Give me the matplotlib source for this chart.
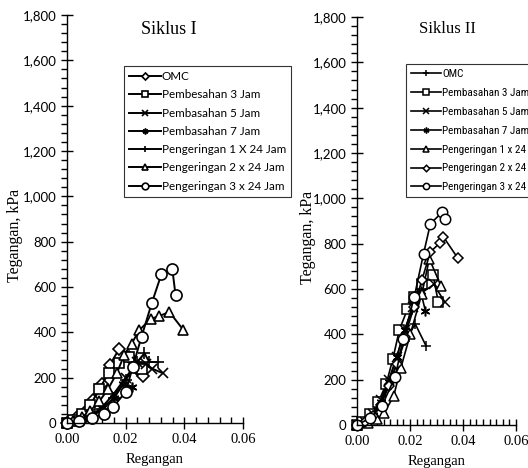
import matplotlib
matplotlib.use("Agg")
import matplotlib.pyplot as plt
from matplotlib.ticker import MultipleLocator, FuncFormatter

# ---- Siklus I data (regangan, tegangan kPa) ----
s1_labels = ["OMC", "Pembesahan 3 Jam", "Pembasahan 5 Jam", "Pembasahan 7 Jam",
             "Pengeringan 1 X 24 Jam", "Pengeringan 2 x 24 Jam", "Pengeringan 3 x 24 Jam"]
s1_omc_x = [0, 0.003, 0.006, 0.009, 0.012, 0.0146, 0.0177, 0.021, 0.024, 0.026]
s1_omc_y = [0, 20, 50, 100, 170, 256, 325, 290, 240, 207]
s1_p3_x = [0, 0.002, 0.005, 0.008, 0.011, 0.0142, 0.0176, 0.021, 0.0257]
s1_p3_y = [0, 15, 40, 80, 150, 220, 265, 290, 238]
s1_p5_x = [0, 0.004, 0.008, 0.012, 0.016, 0.020, 0.024, 0.027, 0.029, 0.0326]
s1_p5_y = [0, 10, 30, 70, 130, 200, 270, 260, 240, 220]
s1_p7_x = [0, 0.004, 0.008, 0.012, 0.016, 0.019, 0.022]
s1_p7_y = [0, 10, 30, 65, 110, 170, 160]
s1_k1_x = [0, 0.004, 0.008, 0.012, 0.016, 0.020, 0.024, 0.0264, 0.028, 0.0311]
s1_k1_y = [0, 10, 25, 60, 110, 190, 270, 308, 270, 268]
s1_k2_x = [0, 0.002, 0.005, 0.008, 0.011, 0.014, 0.017, 0.0195, 0.022, 0.0247,
           0.0285, 0.0315, 0.0349, 0.0397]
s1_k2_y = [0, 8, 25, 55, 95, 150, 220, 300, 350, 410, 459, 472, 490, 410]
s1_k3_x = [0, 0.0041, 0.0084, 0.0125, 0.0157, 0.020, 0.0224, 0.0254, 0.0289,
           0.0322, 0.0359, 0.037]
s1_k3_y = [0, 9, 22, 40, 70, 137, 247, 380, 529, 657, 679, 565]

# ---- Siklus II data ----
s2_labels = ["OMC", "Pembasahan 3 Jam", "Pembasahan 5 Jam", "Pembasahan 7 Jam",
             "Pengeringan 1 x 24 Jam", "Pengeringan 2 x 24 Jam", "Pengeringan 3 x 24 Jam"]
s2_omc_x = [0, 0.003, 0.006, 0.009, 0.012, 0.015, 0.018, 0.022, 0.0261]
s2_omc_y = [0, 15, 45, 100, 180, 270, 370, 445, 348]
s2_p3_x = [0, 0.002, 0.005, 0.008, 0.011, 0.0135, 0.016, 0.019, 0.0215, 0.0245,
           0.0287, 0.0307]
s2_p3_y = [0, 15, 50, 100, 180, 290, 420, 510, 565, 620, 662, 541]
s2_p5_x = [0, 0.003, 0.006, 0.009, 0.012, 0.015, 0.018, 0.021, 0.024, 0.029, 0.0332]
s2_p5_y = [0, 15, 50, 110, 200, 300, 420, 520, 580, 620, 541]
s2_p7_x = [0, 0.003, 0.006, 0.009, 0.012, 0.015, 0.018, 0.0215, 0.024, 0.0258]
s2_p7_y = [0, 15, 45, 100, 190, 300, 420, 530, 590, 504]
s2_k1_x = [0, 0.004, 0.0075, 0.0102, 0.0138, 0.0165, 0.0201, 0.0245, 0.0273, 0.0317]
s2_k1_y = [0, 10, 25, 53, 126, 250, 400, 580, 733, 613]
s2_k2_x = [0, 0.003, 0.006, 0.009, 0.012, 0.015, 0.018, 0.0215, 0.0245, 0.0277,
           0.0314, 0.0326, 0.038]
s2_k2_y = [0, 15, 40, 90, 170, 270, 390, 520, 640, 764, 804, 830, 737]
s2_k3_x = [0, 0.005, 0.0094, 0.0144, 0.0175, 0.0216, 0.0251, 0.0277, 0.0321, 0.0333]
s2_k3_y = [0, 31, 84, 213, 378, 565, 755, 888, 938, 908]

s1_series = [(s1_omc_x, s1_omc_y), (s1_p3_x, s1_p3_y), (s1_p5_x, s1_p5_y),
             (s1_p7_x, s1_p7_y), (s1_k1_x, s1_k1_y), (s1_k2_x, s1_k2_y),
             (s1_k3_x, s1_k3_y)]
s2_series = [(s2_omc_x, s2_omc_y), (s2_p3_x, s2_p3_y), (s2_p5_x, s2_p5_y),
             (s2_p7_x, s2_p7_y), (s2_k1_x, s2_k1_y), (s2_k2_x, s2_k2_y),
             (s2_k3_x, s2_k3_y)]

s1_markers = ["D", "s", "x", (6, 2, 0), "+", "^", "o"]
s1_msize = [6, 7.5, 6.5, 7, 8, 7.5, 8]
s2_markers = ["+", "s", "x", (6, 2, 0), "^", "D", "o"]
s2_msize = [7, 7, 6.5, 7, 7, 5.5, 7.5]

serif = "Liberation Serif"
sans = "Lato"
narrow = ["Liberation Sans Narrow", "Roboto Condensed", "Lato"]

fig = plt.figure(figsize=(5.28, 4.68), dpi=100)
W, H = 528, 468


def px_axes(x0, y0, x1, y1):
    return fig.add_axes([x0 / W, 1 - y1 / H, (x1 - x0) / W, (y1 - y0) / H])


def style_axes(ax, xminor):
    ax.set_xlim(0, 0.06)
    ax.set_ylim(0, 1800)
    for s in ["top", "right"]:
        ax.spines[s].set_visible(False)
    for s in ["left", "bottom"]:
        ax.spines[s].set_linewidth(1.0)
    ax.xaxis.set_major_locator(MultipleLocator(0.02))
    ax.xaxis.set_minor_locator(MultipleLocator(xminor))
    ax.yaxis.set_major_locator(MultipleLocator(200))
    ax.yaxis.set_minor_locator(MultipleLocator(40))
    ax.yaxis.set_major_formatter(FuncFormatter(lambda v, p: f"{int(v):,}"))
    ax.xaxis.set_major_formatter(FuncFormatter(lambda v, p: f"{v:.2f}"))
    ax.tick_params(axis="both", which="major", direction="inout", length=8, width=1)
    ax.tick_params(axis="y", which="minor", direction="out", length=4, width=1)
    ax.tick_params(axis="x", which="minor", direction="in", length=4, width=1)
    for t in ax.get_yticklabels():
        t.set_fontfamily(sans)
        t.set_fontsize(9.5)
    for t in ax.get_xticklabels():
        t.set_fontfamily(serif)
        t.set_fontsize(10.5)
    ax.set_xlabel("Regangan", fontfamily=serif, fontsize=10.5, labelpad=5)
    ax.set_ylabel("Tegangan, kPa", fontfamily=serif, fontsize=11.5)


ax1 = px_axes(67, 15, 243, 423)
ax2 = px_axes(357, 17, 516, 425)
style_axes(ax1, 0.004)
style_axes(ax2, 0.0025)

for (x, y), m, ms, lab in zip(s1_series, s1_markers, s1_msize, s1_labels):
    ax1.plot(x, y, color="black", lw=1.4, marker=m, ms=ms, mfc="white",
             mec="black", mew=1.2, label=lab, clip_on=False)
for (x, y), m, ms, lab in zip(s2_series, s2_markers, s2_msize, s2_labels):
    ax2.plot(x, y, color="black", lw=1.2, marker=m, ms=ms, mfc="white",
             mec="black", mew=1.1, label=lab, clip_on=False)

ax1.text(0.58, 0.965, "Siklus I", transform=ax1.transAxes, ha="center",
         va="center", fontfamily=serif, fontsize=13)
ax2.text(0.57, 0.97, "Siklus II", transform=ax2.transAxes, ha="center",
         va="center", fontfamily=serif, fontsize=12)

ax1.yaxis.set_label_coords(-0.25, 0.46)
ax2.yaxis.set_label_coords(-0.26, 0.46)

leg_kw = dict(loc="upper left", frameon=True, fancybox=False, edgecolor="black",
              borderpad=0.45, handlelength=2.7, handletextpad=0.1,
              borderaxespad=0, markerscale=0.6)
l1 = fig.legend(*ax1.get_legend_handles_labels(),
                bbox_to_anchor=(124 / W, 1 - 66 / H), labelspacing=0.62,
                prop={"family": sans, "size": 8.4}, **leg_kw)
l2 = fig.legend(*ax2.get_legend_handles_labels(),
                bbox_to_anchor=(406 / W, 1 - 64 / H), labelspacing=0.8,
                prop={"family": narrow, "size": 8.0}, **leg_kw)
for l in (l1, l2):
    l.get_frame().set_linewidth(0.8)

fig.savefig("out.png", dpi=100)
